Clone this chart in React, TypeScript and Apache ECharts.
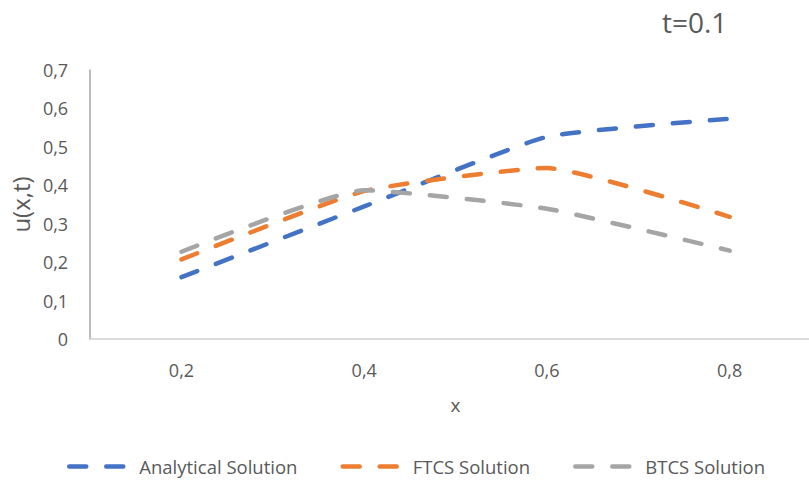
import React, { useEffect, useRef } from "react";
import * as echarts from "echarts";

// x positions (comma decimal, as labelled on the axis)
const xCategories = ["0,2", "0,4", "0,6", "0,8"];

// u(x,t) at t = 0.1
const analytical = [0.161, 0.345, 0.526, 0.573];
const ftcs = [0.207, 0.385, 0.445, 0.318];
const btcs = [0.227, 0.387, 0.339, 0.23];

const seriesNames = ["Analytical Solution", "FTCS Solution", "BTCS Solution"];
const seriesColors = ["#4472C4", "#ED7D31", "#A5A5A5"];
const seriesData = [analytical, ftcs, btcs];

const FONT = "'Open Sans', 'Noto Sans', sans-serif";
const TEXT = "#595959";
const DASH = [17, 20];

const fmtY = (v: number) => (v === 0 ? "0" : v.toFixed(1).replace(".", ","));

export default function App() {
  const ref = useRef<HTMLDivElement>(null);

  useEffect(() => {
    if (!ref.current) return;
    const chart = echarts.init(ref.current, undefined, { renderer: "svg" });

    chart.setOption({
      animation: false,
      backgroundColor: "#ffffff",
      title: {
        text: "t=0.1",
        left: 657,
        top: 3,
        textStyle: { color: TEXT, fontFamily: FONT, fontSize: 28, fontWeight: "normal" },
      },
      grid: { left: 89, right: 0, top: 70, bottom: 142 },
      legend: {
        bottom: 0,
        left: 62,
        itemWidth: 58,
        itemHeight: 14,
        itemGap: 43,
        data: seriesNames,
        itemStyle: { opacity: 0 },
        lineStyle: { width: 4.5, cap: "round", type: DASH },
        textStyle: { color: TEXT, fontFamily: FONT, fontSize: 18.5, padding: [0, 0, 0, 7] },
      },
      xAxis: {
        type: "category",
        data: xCategories,
        boundaryGap: true,
        name: "x",
        nameLocation: "middle",
        nameGap: 56,
        nameTextStyle: { color: TEXT, fontFamily: FONT, fontSize: 19 },
        axisLine: { show: true, lineStyle: { color: "#D0D0D0", width: 1.5 } },
        axisTick: { show: false },
        axisLabel: { color: TEXT, fontFamily: FONT, fontSize: 18, margin: 22 },
        splitLine: { show: false },
      },
      yAxis: {
        type: "value",
        min: 0,
        max: 0.7,
        interval: 0.1,
        name: "u(x,t)",
        nameLocation: "middle",
        nameGap: 56,
        nameTextStyle: { color: TEXT, fontFamily: FONT, fontSize: 24 },
        axisLine: { show: true, lineStyle: { color: "#A6A6A6", width: 1.5 } },
        axisTick: { show: false },
        axisLabel: { color: TEXT, fontFamily: FONT, fontSize: 18, margin: 22, formatter: fmtY },
        splitLine: { show: false },
      },
      series: seriesNames.map((name, i) => ({
        name,
        type: "line",
        data: seriesData[i],
        smooth: 0.15,
        symbol: "none",
        color: seriesColors[i],
        lineStyle: {
          color: seriesColors[i],
          width: 4.5,
          type: DASH,
          cap: "round",
          join: "round",
        },
      })),
    });

    return () => chart.dispose();
  }, []);

  return (
    <div
      style={{
        position: "fixed",
        left: 0,
        top: 0,
        width: 809,
        height: 481,
        overflow: "hidden",
        background: "#fff",
      }}
    >
      <div ref={ref} style={{ width: 821, height: 481 }} />
    </div>
  );
}
